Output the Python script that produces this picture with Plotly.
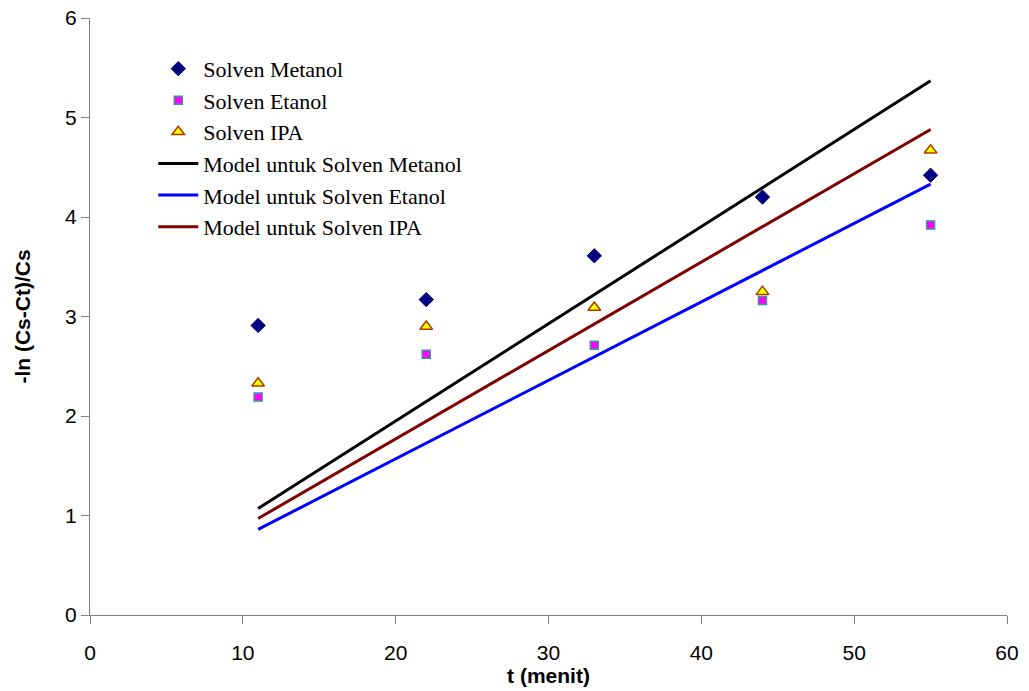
import plotly.graph_objects as go

t = [11, 22, 33, 44, 55]
metanol = [2.91, 3.17, 3.61, 4.20, 4.42]
etanol = [2.19, 2.62, 2.71, 3.16, 3.92]
ipa = [2.33, 2.90, 3.09, 3.25, 4.67]

t_model = [11, 55]
model_metanol = [1.07, 5.37]
model_etanol = [0.86, 4.33]
model_ipa = [0.97, 4.88]

fig = go.Figure()
fig.add_trace(go.Scatter(x=t, y=metanol, mode="markers", name="Solven Metanol",
                         legendgroup="a",
                         marker=dict(symbol="diamond", size=11, color="#000080",
                                     line=dict(color="#000080", width=1))))
fig.add_trace(go.Scatter(x=t, y=etanol, mode="markers", name="Solven Etanol",
                         legendgroup="b",
                         marker=dict(symbol="square", size=8, color="#FF00FF",
                                     line=dict(color="#339999", width=1.5))))
fig.add_trace(go.Scatter(x=t, y=ipa, mode="markers", name="Solven IPA",
                         legendgroup="c",
                         marker=dict(symbol="triangle-up", size=11, color="#FFFF00",
                                     line=dict(color="#B03A00", width=1.5))))
fig.add_trace(go.Scatter(x=t_model, y=model_metanol, mode="lines",
                         name="Model untuk Solven Metanol", legendgroup="d",
                         line=dict(color="#000000", width=3)))
fig.add_trace(go.Scatter(x=t_model, y=model_etanol, mode="lines",
                         name="Model untuk Solven Etanol", legendgroup="e",
                         line=dict(color="#0000FF", width=3)))
fig.add_trace(go.Scatter(x=t_model, y=model_ipa, mode="lines",
                         name="Model untuk Solven IPA", legendgroup="f",
                         line=dict(color="#800000", width=3)))

fig.update_layout(
    width=1029, height=691,
    margin=dict(l=90, r=22, t=18, b=76),
    plot_bgcolor="white", paper_bgcolor="white",
    showlegend=True,
    legend=dict(x=0.069, y=0.95, xanchor="left", yanchor="top",
                font=dict(family="Liberation Serif", size=22, color="black"),
                bgcolor="rgba(0,0,0,0)", tracegroupgap=0, itemwidth=40),
    xaxis=dict(range=[0, 60], dtick=10, showgrid=False, zeroline=False,
               showline=True, linecolor="#808080", linewidth=1,
               ticks="outside", ticklen=8, tickcolor="#808080",
               ticklabelstandoff=11, automargin=False,
               tickfont=dict(family="Liberation Sans", size=21, color="black"),
               title=dict(text="<b>t (menit)</b>", standoff=0,
                          font=dict(family="Liberation Sans", size=21, color="black"))),
    yaxis=dict(range=[0, 6], dtick=1, showgrid=False, zeroline=False,
               showline=True, linecolor="#808080", linewidth=1,
               ticks="outside", ticklen=8, tickcolor="#808080",
               automargin=False,
               tickfont=dict(family="Liberation Sans", size=21, color="black"),
               title=dict(text="<b>-ln (Cs-Ct)/Cs</b>", standoff=28,
                          font=dict(family="Liberation Sans", size=21, color="black"))),
)

fig.write_html("out.html")
